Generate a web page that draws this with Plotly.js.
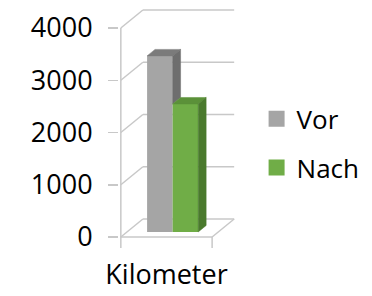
<!DOCTYPE html>
<html>
<head>
<meta charset="utf-8">
<script src="https://cdn.plot.ly/plotly-3.0.1.min.js"></script>
<style>html,body{margin:0;padding:0;background:#fff;}#chart{width:372px;height:296px;}</style>
</head>
<body>
<div id="chart"></div>
<script>
// ---- data ----
const categories = ['Kilometer'];
const seriesNames = ['Vor', 'Nach'];
const vorValues = [3370];
const nachValues = [2450];
const yTickVals = [0, 1000, 2000, 3000, 4000];

// ---- style ----
const frontColors = ['#a5a5a5', '#70ad47'];
const topColors = ['#7b7b7b', '#5b9139'];
const sideColors = ['#6e6e6e', '#4a7a2d'];
const gridColor = '#c8c8c8';
const fontFamily = '"Open Sans", "Noto Sans", sans-serif';

// geometry (pixel scale of the pseudo-3D box)
const PX_PER_X = 91;              // px per category unit
const PX_PER_Y = 209 / 4000;      // px per value unit
const DEPTH_X = 22 / PX_PER_X;    // box depth, x units
const DEPTH_Y = 18 / PX_PER_Y;    // box depth, y units
const TICK_DOWN = 11 / PX_PER_Y;  // category tick length below floor
const BAR_W = 0.28;               // bar width (x units)
const BAR_FRONT = 0.28;           // depth fraction of bar front face
const BAR_DEPTH = 0.36;           // depth fraction of bar thickness

const seriesValues = [vorValues, nachValues];

const xRange = [-0.52, 0.5 + DEPTH_X + 0.02];
const plotW = (xRange[1] - xRange[0]) * PX_PER_X;
const marginL = 119, marginT = 6, marginB = 46;
const yRange = [-(250 - 237) / PX_PER_Y, (237 - marginT) / PX_PER_Y];

// ---- walls & floor as shapes below the data ----
const shapes = [];
function seg(x0, y0, x1, y1) {
  shapes.push({type: 'line', xref: 'x', yref: 'y', layer: 'below',
    x0: x0, y0: y0, x1: x1, y1: y1, line: {color: gridColor, width: 1.5}});
}
seg(-0.5, -TICK_DOWN, -0.5, yTickVals[yTickVals.length - 1]);
seg(0.5, -TICK_DOWN, 0.5, 0);
seg(-0.5, 0, 0.5, 0);
seg(0.5, 0, 0.5 + DEPTH_X, DEPTH_Y);
yTickVals.forEach(v => {
  seg(-0.5, v, -0.5 + DEPTH_X, v + DEPTH_Y);
  seg(-0.5 + DEPTH_X, v + DEPTH_Y, 0.5 + DEPTH_X, v + DEPTH_Y);
});

// ---- bars ----
const traces = [];
const fdx = BAR_FRONT * DEPTH_X, fdy = BAR_FRONT * DEPTH_Y;
const bdx = BAR_DEPTH * DEPTH_X, bdy = BAR_DEPTH * DEPTH_Y;
const nS = seriesValues.length;
seriesValues.forEach((vals, i) => {
  const offset = -BAR_W * nS / 2 + i * BAR_W + fdx;
  traces.push({
    type: 'bar', x: [0], y: vals, base: [fdy], width: [BAR_W], offset: [offset],
    marker: {color: frontColors[i], line: {width: 0}}, name: seriesNames[i],
    showlegend: false, hoverinfo: 'y'
  });
});
seriesValues.forEach((vals, i) => {
  vals.forEach((v, k) => {
    const x0 = -BAR_W * nS / 2 + i * BAR_W + fdx;
    const x1 = x0 + BAR_W;
    const yB = fdy, yT = v + fdy;
    // top face
    traces.push({
      type: 'scatter', mode: 'lines', fill: 'toself', fillcolor: topColors[i],
      x: [x0, x1, x1 + bdx, x0 + bdx, x0], y: [yT, yT, yT + bdy, yT + bdy, yT],
      line: {width: 0.5, color: topColors[i]}, showlegend: false, hoverinfo: 'skip'
    });
    // side face (part hidden behind the next bar removed)
    let bottom = yB;
    if (i + 1 < nS) bottom = yB + seriesValues[i + 1][k];
    if (bottom < yT) {
      traces.push({
        type: 'scatter', mode: 'lines', fill: 'toself', fillcolor: sideColors[i],
        x: [x1, x1 + bdx, x1 + bdx, x1, x1],
        y: [yT, yT + bdy, bottom + bdy, bottom, yT],
        line: {width: 0.5, color: sideColors[i]}, showlegend: false, hoverinfo: 'skip'
      });
    }
  });
});
// legend entries
seriesNames.forEach((n, i) => {
  traces.push({
    type: 'scatter', mode: 'markers', x: [null], y: [null], name: n,
    legendgroup: 'g' + i,
    marker: {symbol: 'square', size: 18, color: frontColors[i]}, hoverinfo: 'skip'
  });
});

const layout = {
  width: 372, height: 296,
  margin: {l: marginL, r: 372 - marginL - plotW, t: marginT, b: marginB, pad: 0},
  paper_bgcolor: '#fff', plot_bgcolor: 'rgba(0,0,0,0)',
  font: {family: fontFamily, color: '#000', size: 27},
  barmode: 'overlay',
  xaxis: {range: xRange, tickvals: [0], ticktext: categories, showgrid: false,
    zeroline: false, showline: false, ticks: '', fixedrange: true,
    ticklabelstandoff: 6,
    tickfont: {size: 27, family: fontFamily, color: '#000'}},
  yaxis: {range: yRange, tickvals: yTickVals, showgrid: false, zeroline: false,
    showline: false, ticks: 'outside', ticklen: 10, tickcolor: gridColor, tickwidth: 1.5,
    ticklabelstandoff: 10, fixedrange: true,
    tickfont: {size: 27, family: fontFamily, color: '#000'}},
  shapes: shapes,
  showlegend: true,
  legend: {x: 1.176, xanchor: 'left', y: 0.634, yanchor: 'top', tracegroupgap: 12,
    traceorder: 'grouped', font: {size: 26, family: fontFamily, color: '#000'},
    bgcolor: 'rgba(0,0,0,0)'}
};

Plotly.newPlot('chart', traces, layout, {displayModeBar: false, staticPlot: true});
</script>
</body>
</html>
